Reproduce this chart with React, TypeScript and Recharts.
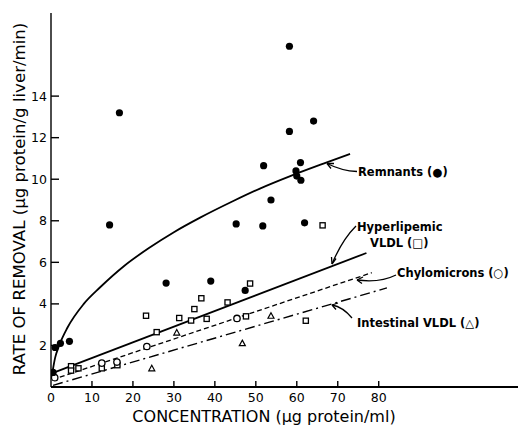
import React from "react";
import { ComposedChart, XAxis, YAxis, Scatter, Line } from "recharts";

// ---- data ----
const remnantPoints = [
  { x: 0.5, y: 0.7 }, { x: 1.0, y: 1.9 }, { x: 2.3, y: 2.1 }, { x: 4.5, y: 2.2 },
  { x: 14.3, y: 7.8 }, { x: 16.7, y: 13.2 }, { x: 28.1, y: 5.0 }, { x: 39.0, y: 5.1 },
  { x: 45.2, y: 7.85 }, { x: 47.4, y: 4.65 }, { x: 51.7, y: 7.75 }, { x: 51.9, y: 10.65 },
  { x: 53.7, y: 9.0 }, { x: 58.2, y: 16.4 }, { x: 58.2, y: 12.3 }, { x: 59.8, y: 10.4 },
  { x: 60.0, y: 10.15 }, { x: 60.9, y: 10.8 }, { x: 61.0, y: 9.95 }, { x: 61.9, y: 7.9 },
  { x: 64.1, y: 12.8 },
];
const hyperVldlPoints = [
  { x: 4.9, y: 1.0 }, { x: 4.9, y: 0.79 }, { x: 6.7, y: 0.9 }, { x: 12.4, y: 0.9 },
  { x: 16.2, y: 1.05 }, { x: 23.2, y: 3.43 }, { x: 25.8, y: 2.64 }, { x: 31.3, y: 3.32 },
  { x: 34.2, y: 3.2 }, { x: 35.0, y: 3.75 }, { x: 36.7, y: 4.27 }, { x: 38.0, y: 3.28 },
  { x: 43.1, y: 4.07 }, { x: 47.6, y: 3.4 }, { x: 48.6, y: 4.98 }, { x: 62.2, y: 3.19 },
  { x: 66.3, y: 7.78 },
];
const chylomicronPoints = [
  { x: 0.9, y: 0.45 }, { x: 12.4, y: 1.15 }, { x: 16.1, y: 1.2 }, { x: 23.4, y: 1.95 },
  { x: 45.4, y: 3.3 },
];
const intestinalPoints = [
  { x: 24.6, y: 0.9 }, { x: 30.7, y: 2.62 }, { x: 46.7, y: 2.11 }, { x: 53.7, y: 3.43 },
];

const remnantCurve = [
  { x: 0.3, y: 0.65 }, { x: 1, y: 1.4 }, { x: 2, y: 2.0 }, { x: 4, y: 2.85 },
  { x: 8, y: 4.0 }, { x: 12, y: 4.8 }, { x: 18, y: 5.85 }, { x: 24, y: 6.7 },
  { x: 30, y: 7.45 }, { x: 36.4, y: 8.15 }, { x: 44.5, y: 8.95 }, { x: 51, y: 9.55 },
  { x: 58.4, y: 10.15 }, { x: 66.5, y: 10.75 }, { x: 73, y: 11.22 },
];
const hyperLine = [{ x: 0.5, y: 0.68 }, { x: 77, y: 6.45 }];
const chyloLine = [{ x: 0.3, y: 0.35 }, { x: 78.3, y: 5.5 }];
const intestLine = [{ x: 0.5, y: 0.08 }, { x: 82, y: 4.77 }];

const xTicks = [0, 10, 20, 30, 40, 50, 60, 70, 80];
const yTicks = [2, 4, 6, 8, 10, 12, 14];

const FONT = "'DejaVu Sans', sans-serif";

const XTick = (props: any) => {
  const { x, y, payload } = props;
  return (
    <g>
      {payload.value !== 0 && (
        <line x1={x} x2={x} y1={y} y2={y - 6} stroke="#000" strokeWidth={1.4} />
      )}
      <text x={x} y={y + 15} textAnchor="middle" fontFamily={FONT} fontSize={12.5} fill="#000">
        {payload.value}
      </text>
    </g>
  );
};

const YTick = (props: any) => {
  const { x, y, payload } = props;
  return (
    <g>
      <line x1={x} x2={x + 8} y1={y} y2={y} stroke="#000" strokeWidth={1.4} />
      <text x={x - 4} y={y + 4.5} textAnchor="end" fontFamily={FONT} fontSize={12.5} fill="#000">
        {payload.value}
      </text>
    </g>
  );
};

const FilledDot = (p: any) => <circle cx={p.cx} cy={p.cy} r={3.6} fill="#000" />;
const OpenSquare = (p: any) => (
  <rect x={p.cx - 2.6} y={p.cy - 2.6} width={5.2} height={5.2} fill="#fff" stroke="#000" strokeWidth={1.3} />
);
const OpenCircle = (p: any) => (
  <circle cx={p.cx} cy={p.cy} r={3.2} fill="#fff" stroke="#000" strokeWidth={1.3} />
);
const OpenTriangle = (p: any) => (
  <path
    d={`M${p.cx},${p.cy - 3} L${p.cx + 3},${p.cy + 2.5} L${p.cx - 3},${p.cy + 2.5} Z`}
    fill="#fff"
    stroke="#000"
    strokeWidth={1.2}
  />
);

export default function App() {
  return (
    <div style={{ position: "absolute", left: 0, top: 0, width: 519, height: 431, background: "#fff" }}>
      <ComposedChart
        width={519}
        height={431}
        margin={{ top: 13, right: 1, left: 0, bottom: 0 }}
      >
        <XAxis
          type="number"
          dataKey="x"
          domain={[0, 114]}
          ticks={xTicks}
          height={44}
          tickSize={0}
          tickMargin={0}
          tick={<XTick />}
          axisLine={{ stroke: "#000", strokeWidth: 2 }}
          allowDataOverflow
          interval={0}
        />
        <YAxis
          type="number"
          dataKey="y"
          domain={[0, 18]}
          ticks={yTicks}
          width={51}
          tickSize={0}
          tickMargin={0}
          tick={<YTick />}
          axisLine={{ stroke: "#000", strokeWidth: 1.4 }}
          allowDataOverflow
          interval={0}
        />
        <Line data={remnantCurve} dataKey="y" type="monotone" stroke="#000" strokeWidth={1.8} dot={false} isAnimationActive={false} />
        <Line data={hyperLine} dataKey="y" type="linear" stroke="#000" strokeWidth={1.8} dot={false} isAnimationActive={false} />
        <Line data={chyloLine} dataKey="y" type="linear" stroke="#000" strokeWidth={1.3} strokeDasharray="5 3" dot={false} isAnimationActive={false} />
        <Line data={intestLine} dataKey="y" type="linear" stroke="#000" strokeWidth={1.4} strokeDasharray="10 4 2 4" dot={false} isAnimationActive={false} />
        <Scatter data={hyperVldlPoints} dataKey="y" shape={OpenSquare} isAnimationActive={false} />
        <Scatter data={chylomicronPoints} dataKey="y" shape={OpenCircle} isAnimationActive={false} />
        <Scatter data={intestinalPoints} dataKey="y" shape={OpenTriangle} isAnimationActive={false} />
        <Scatter data={remnantPoints} dataKey="y" shape={FilledDot} isAnimationActive={false} />
      </ComposedChart>
      <svg
        width={519}
        height={431}
        style={{ position: "absolute", left: 0, top: 0, pointerEvents: "none" }}
      >
        <g fontFamily={FONT} fill="#000">
          <text x={264} y={422} textAnchor="middle" fontSize={16}>
            CONCENTRATION (μg protein/ml)
          </text>
          <text
            x={19}
            y={199}
            textAnchor="middle"
            dominantBaseline="central"
            fontSize={16.6}
            transform="rotate(-90, 19, 199)"
          >
            RATE OF REMOVAL (μg protein/g liver/min)
          </text>
          <g fontSize={11.5} fontWeight="bold">
            <text x={358} y={176}>Remnants (●)</text>
            <text x={357} y={231}>Hyperlipemic</text>
            <text x={370} y={247}>VLDL (□)</text>
            <text x={397} y={277}>Chylomicrons (○)</text>
            <text x={357} y={327}>Intestinal VLDL (△)</text>
          </g>
        </g>
        <g fill="none" stroke="#000" strokeWidth={1.3}>
          <path d="M357,171.5 Q342,171 327,163.5" />
          <path d="M327,163.5 L334,163.5 M327,163.5 L331,168.5" />
          <path d="M356,226 Q342,240 332,264" />
          <path d="M332,264 L331.5,257 M332,264 L336,258.5" />
          <path d="M396,275 Q380,283 357,280" />
          <path d="M357,280 L363,277 M357,280 L362,283.5" />
          <path d="M352,318 Q343,307 332,305" />
          <path d="M332,305 L338,303 M332,305 L336,309.5" />
        </g>
      </svg>
    </div>
  );
}
